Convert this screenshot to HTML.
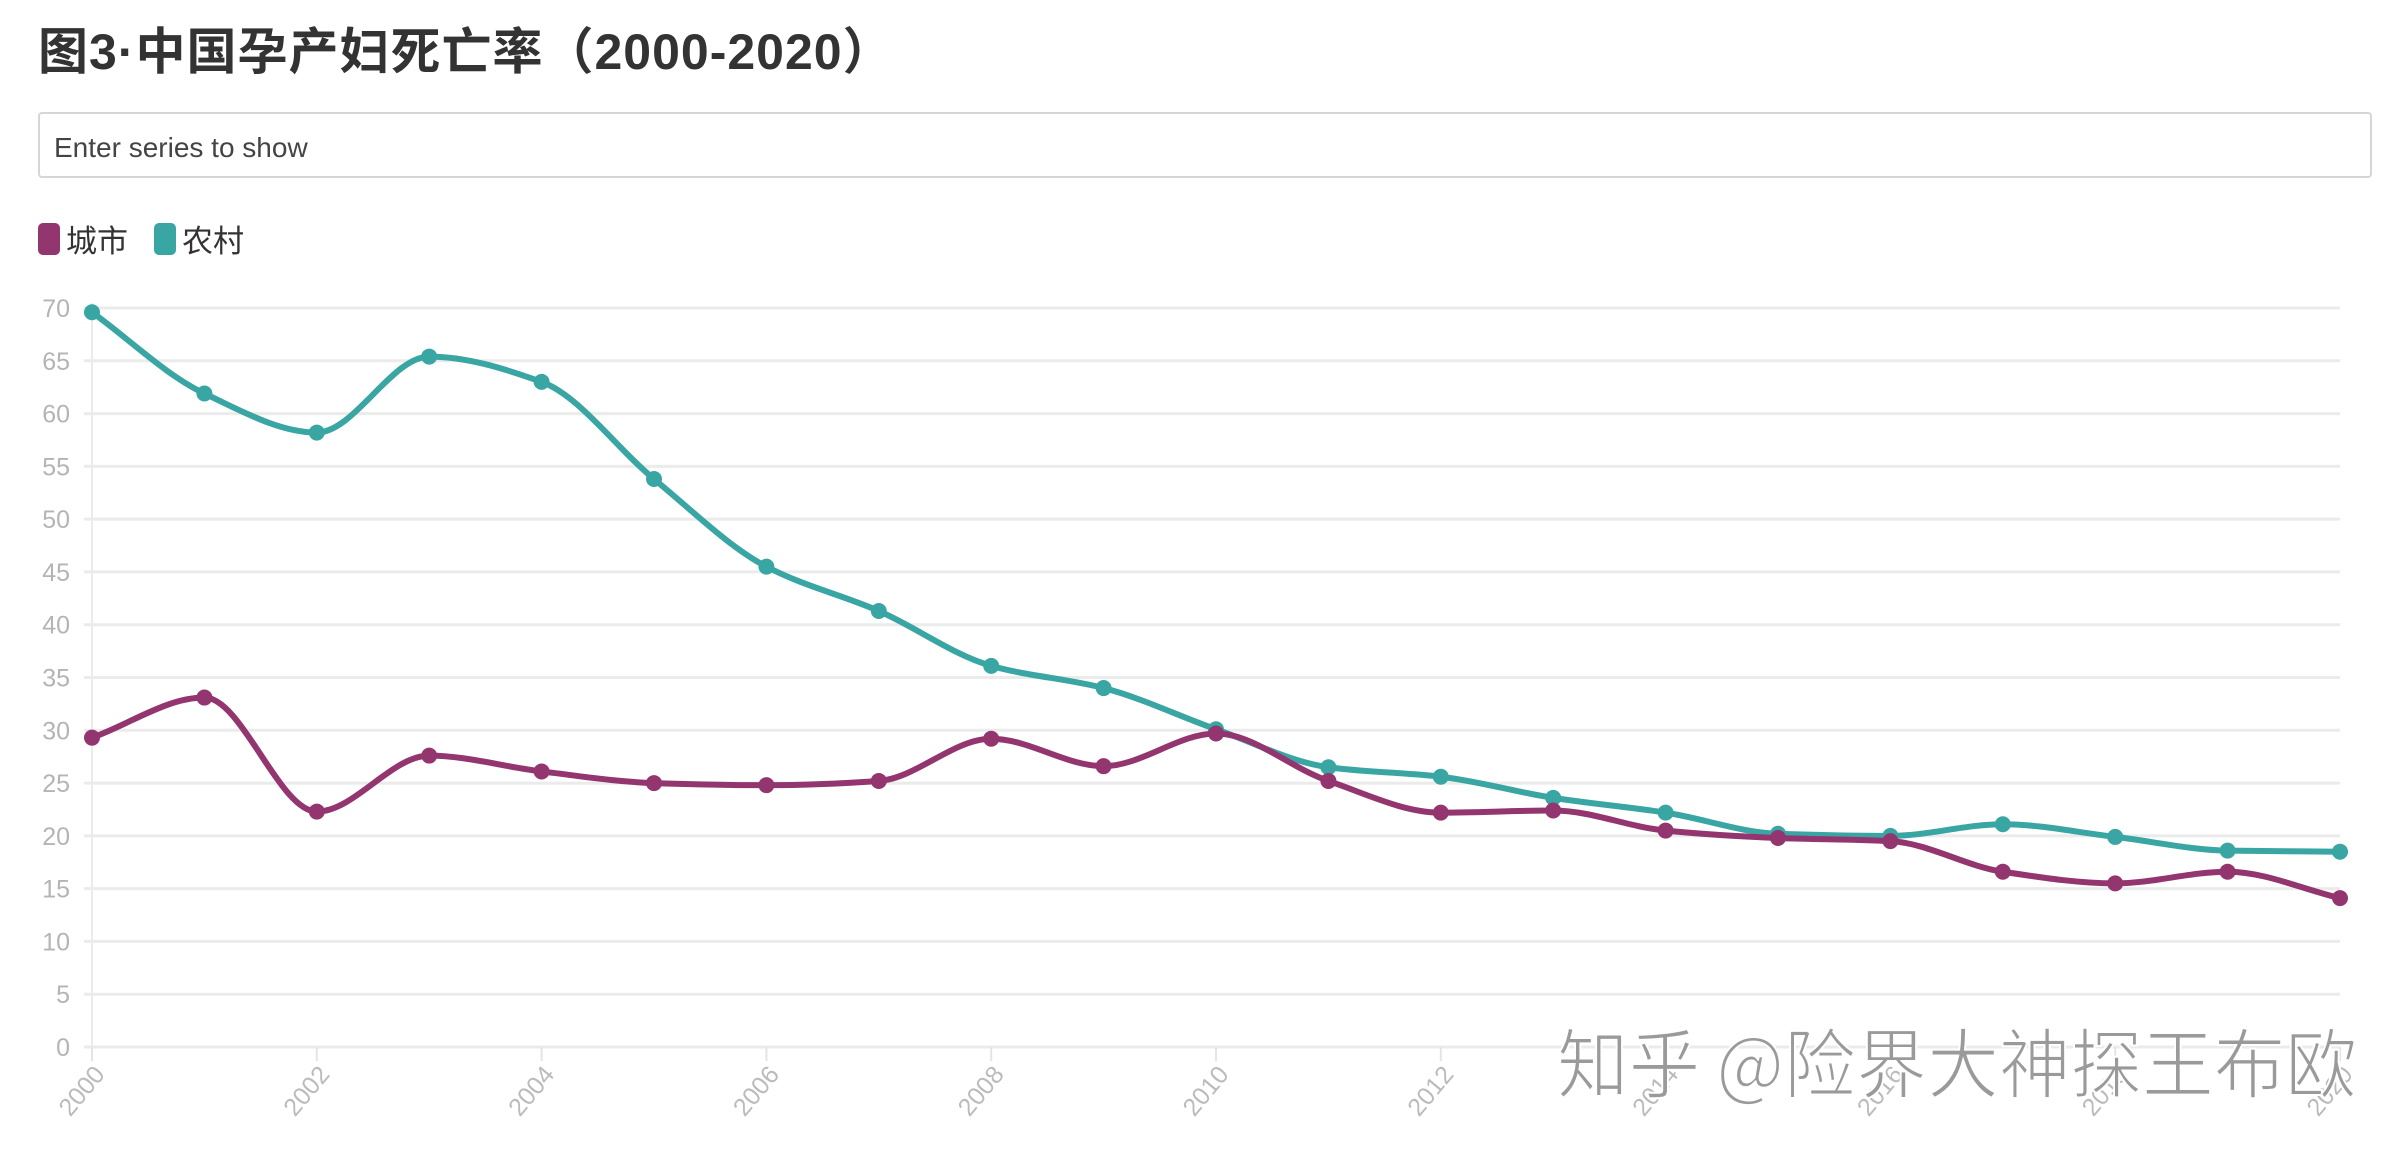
<!DOCTYPE html>
<html><head><meta charset="utf-8"><style>
body{margin:0;width:2406px;height:1154px;background:#fff;overflow:hidden;font-family:"Liberation Sans","Noto Sans CJK SC",sans-serif;}
#title{position:absolute;left:38px;top:12px;font-size:50px;font-weight:bold;color:#333;letter-spacing:1px}
#search{position:absolute;left:38px;top:112px;width:2334px;height:66px;border:2px solid #d6d6d6;border-radius:4px;box-sizing:border-box;font-size:28px;color:#444;padding:18px 0 0 14px}
.leg{position:absolute;top:216px;font-size:31px;color:#333;display:flex;align-items:center}
.sw{width:22px;height:32px;border-radius:5px;margin-right:6px}
</style></head><body>
<div id="title">图3·中国孕产妇死亡率（2000-2020）</div>
<div id="search">Enter series to show</div>
<div class="leg" style="left:38px"><div class="sw" style="background:#93356f"></div>城市</div>
<div class="leg" style="left:154px"><div class="sw" style="background:#3aa6a4"></div>农村</div>
<svg id="chart" width="2406" height="1154" style="position:absolute;left:0;top:0"></svg>
<script>
const years=[2000,2001,2002,2003,2004,2005,2006,2007,2008,2009,2010,2011,2012,2013,2014,2015,2016,2017,2018,2019,2020];
const urban=[29.3,33.1,22.3,27.6,26.1,25.0,24.8,25.2,29.2,26.6,29.7,25.2,22.2,22.4,20.5,19.8,19.5,16.6,15.5,16.6,14.1];
const rural=[69.6,61.9,58.2,65.4,63.0,53.8,45.5,41.3,36.1,34.0,30.1,26.5,25.6,23.6,22.2,20.2,20.0,21.1,19.9,18.6,18.5];
const yTicks=[0,5,10,15,20,25,30,35,40,45,50,55,60,65,70];
const xTicks=[2000,2002,2004,2006,2008,2010,2012,2014,2016,2018,2020];
const X0=92,X1=2340,Y0=1047,Y1=308;
const xs=v=>X0+(v-2000)/20*(X1-X0);
const ys=v=>Y0-v/70*(Y0-Y1);
const svg=document.getElementById('chart');const NS='http://www.w3.org/2000/svg';
function mk(t,a){const e=document.createElementNS(NS,t);for(const k in a)e.setAttribute(k,a[k]);svg.appendChild(e);return e;}
yTicks.forEach(t=>{
 const l=mk('line',{x1:X0-8,x2:X1,y1:ys(t),y2:ys(t),stroke:'#ebebeb','stroke-width':3});
 
 
 const tx=mk('text',{x:X0-22,y:ys(t)+9,'text-anchor':'end','font-size':25,fill:'#b4b4b4','font-family':'Liberation Sans, sans-serif'});
 tx.textContent=t;
 
 
});
const ax=mk('line',{x1:X0,x2:X0,y1:Y1-5,y2:Y0+10,stroke:'#ebebeb','stroke-width':2});


xTicks.forEach(t=>{
 const l=mk('line',{x1:xs(t),x2:xs(t),y1:Y0,y2:Y0+14,stroke:'#e4e4e4','stroke-width':2});
 
 
 const tx=mk('text',{x:xs(t)+14,y:Y0+28,'text-anchor':'end','font-size':25,fill:'#bbb','font-family':'Liberation Sans, sans-serif',transform:`rotate(-50 ${xs(t)+14} ${Y0+28})`});
 tx.textContent=t;
 
 
});
function monotone(pts){
 const n=pts.length,d=[],m=[];
 for(let i=0;i<n-1;i++)d.push((pts[i+1][1]-pts[i][1])/(pts[i+1][0]-pts[i][0]));
 for(let i=0;i<n;i++){
  if(i==0)m.push(d[0]);else if(i==n-1)m.push(d[n-2]);
  else m.push(d[i-1]*d[i]<=0?0:(2*d[i-1]*d[i])/(d[i-1]+d[i]));
 }
 let p=`M${pts[0][0]},${pts[0][1]}`;
 for(let i=0;i<n-1;i++){const h=(pts[i+1][0]-pts[i][0])/3;
  p+=`C${pts[i][0]+h},${pts[i][1]+m[i]*h} ${pts[i+1][0]-h},${pts[i+1][1]-m[i+1]*h} ${pts[i+1][0]},${pts[i+1][1]}`;}
 return p;
}
function series(vals,col,name){
 const pts=years.map((y,i)=>[xs(y),ys(vals[i])]);
 const p=mk('path',{d:monotone(pts),fill:'none',stroke:col,'stroke-width':6});
 
 
 pts.forEach(q=>{const c=mk('circle',{cx:q[0],cy:q[1],r:8,fill:col});
  
  });
}
series(rural,'#3aa6a4','rural');
series(urban,'#93356f','urban');
const wm=mk('text',{x:1557,y:1092,'font-size':76,fill:'#9a9a9a',stroke:'#fff','stroke-width':2,textLength:800,lengthAdjust:'spacingAndGlyphs','font-family':'Noto Sans CJK SC, sans-serif'});
wm.textContent='知乎 @险界大神探王布欧';


</script>
</body></html>
